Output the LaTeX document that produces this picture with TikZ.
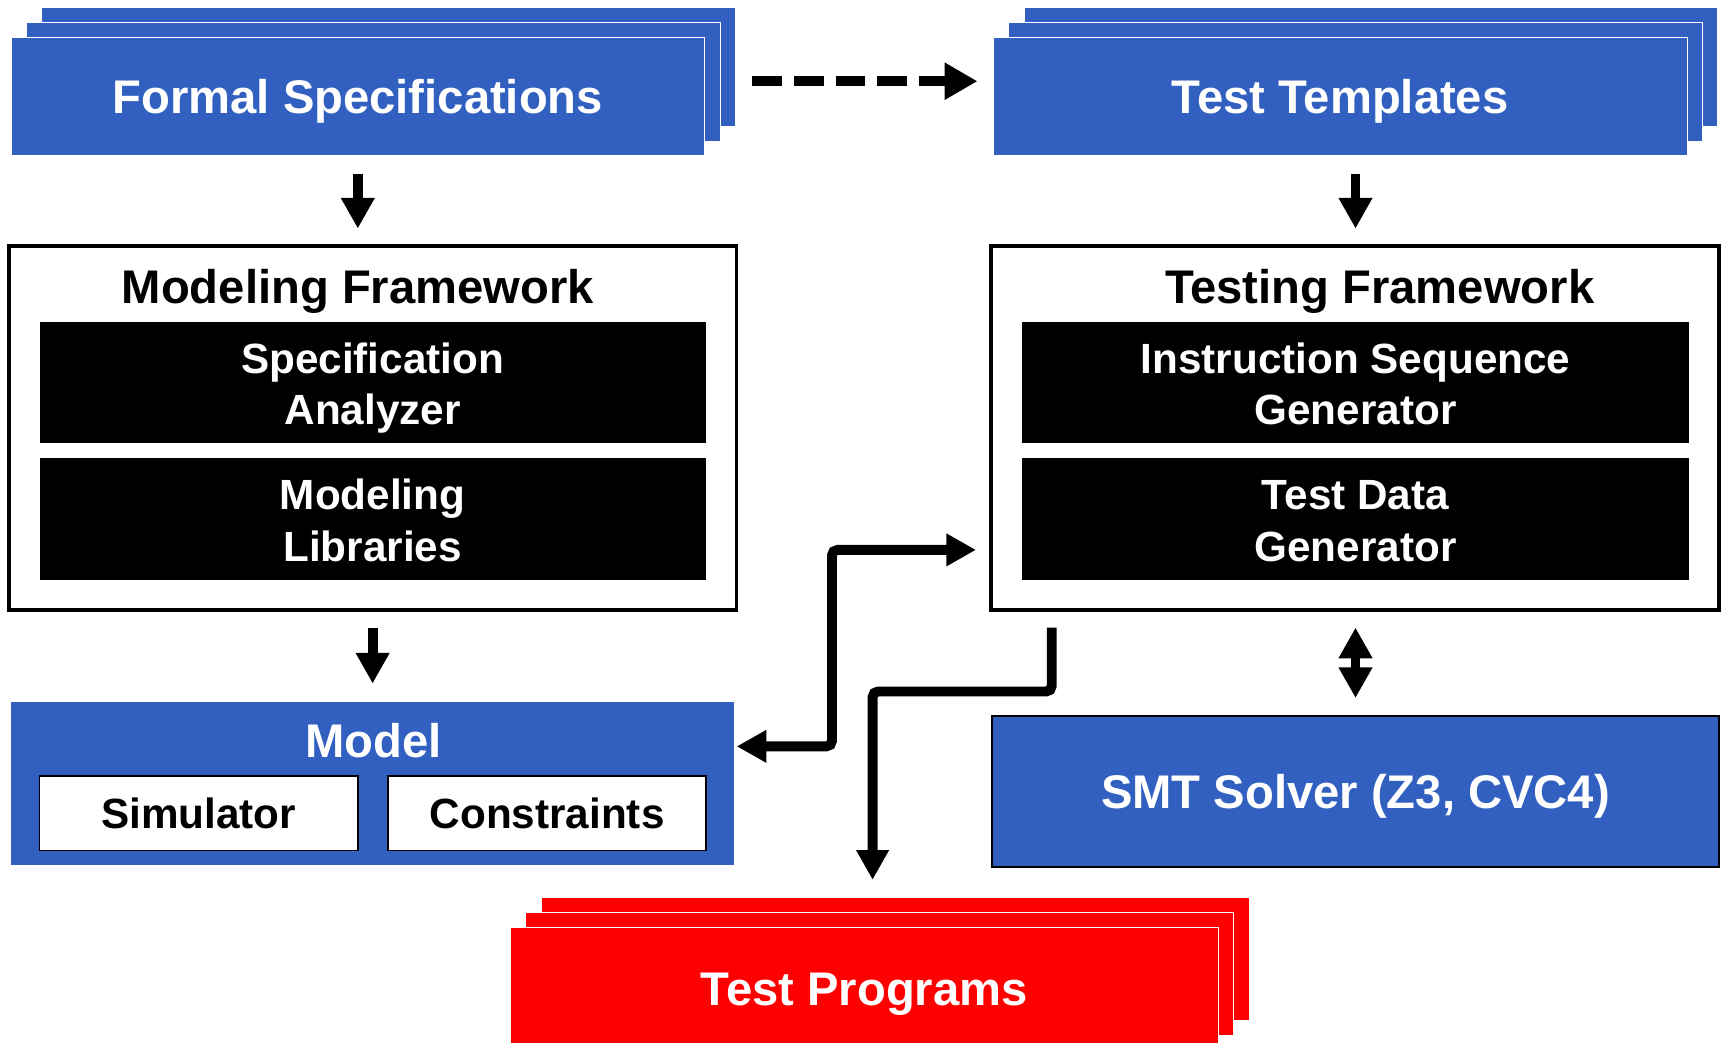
\documentclass[tikz,border=0pt]{standalone}
\usepackage{fontspec}
\setmainfont{Liberation Sans}
\usepackage{xcolor}
\usepackage{tikz}
\usetikzlibrary{arrows.meta}
\usetikzlibrary{shadows}
\usetikzlibrary{positioning}
\definecolor{azul}{RGB}{50,96,192}
\tikzset{
  pilha/.style={fill=#1, draw=white, line width=0.8pt, text=white,
    copy shadow={shadow xshift=28pt, shadow yshift=27pt},
    copy shadow={shadow xshift=14pt, shadow yshift=13.5pt},
    minimum width=632pt, minimum height=108pt, inner sep=0pt,
    text height=31pt, text depth=0pt,
    font=\fontsize{43}{50}\selectfont\bfseries},
  pilha/.default=azul,
  moldura/.style={draw, line width=3.5pt, minimum width=663pt, minimum height=332pt},
  titulo/.style={font=\fontsize{43}{50}\selectfont\bfseries, inner sep=0pt,
    text height=31pt, text depth=0pt},
  preta/.style={fill=black, text=white, align=center, minimum width=607pt, minimum height=111pt,
    inner sep=0pt, text height=77pt, text depth=0pt,
    font=\fontsize{38.5}{47}\selectfont\bfseries},
  branca/.style={fill=white, draw, line width=1.5pt, minimum width=290pt, minimum height=68pt,
    font=\fontsize{38.5}{47}\selectfont\bfseries},
  seta/.style={line width=9pt, -{Triangle[width=29pt,length=28pt]}},
  cotovelo/.style={line width=9pt, rounded corners=5pt},
}

\begin{document}
\begin{tikzpicture}[x=1pt, y=-1pt]
  \useasboundingbox (0,0) rectangle (1568,950);
  % caixas de cima
  \node[pilha] (formal) at (326,88) {Formal Specifications};
  \node[pilha] (tmpl) at (1221,88) {Test Templates};
  % lado esquerdo
  \node[moldura] (modfw) at (339.5,390) {};
  \node[titulo] (modtit) at (326,261) {Modeling Framework};
  \node[preta] (spec) at (339.5,348.5) {Specification\\Analyzer};
  \node[preta, below=13pt of spec] (libs) {Modeling\\Libraries};
  \node[fill=azul, minimum width=659pt, minimum height=148pt] (model) at (339.5,714) {};
  \node[titulo, text=white] (modlab) at (340,675) {Model};
  \node[branca] (sim) at (181,741) {Simulator};
  \node[branca] (cons) at (498.5,741) {Constraints};
  % lado direito
  \node[moldura] (testfw) at (1234.5,390) {};
  \node[titulo] (testtit) at (1257,261) {Testing Framework};
  \node[preta, minimum width=608pt] (isg) at (1235,348.5) {Instruction Sequence\\Generator};
  \node[preta, minimum width=608pt, below=13pt of isg] (tdg) {Test Data\\Generator};
  \node[fill=azul, draw, line width=2pt, text=white, minimum width=662pt, minimum height=138pt,
    text height=31pt, text depth=0pt,
    font=\fontsize{43}{50}\selectfont\bfseries] (smt) at (1235,721) {SMT Solver (Z3, CVC4)};
  % saida
  \node[pilha=red, minimum width=645pt, minimum height=112pt] (tprog) at (787.5,901) {Test Programs};
  % setas
  \draw[seta, -{Triangle[width=32pt,length=30pt]}, dash pattern=on 27pt off 11pt]
    ([xshift=43pt,yshift=14pt]formal.east) -- ([xshift=-14pt,yshift=14pt]tmpl.west);
  \draw[seta] ([yshift=-16pt]formal.south) -- ([yshift=14pt]modfw.north -| formal.south);
  \draw[seta] ([yshift=-16pt]tmpl.south -| isg.south) -- ([yshift=14pt]testfw.north -| isg.south);
  \draw[seta] ([yshift=-14pt]modfw.south) -- ([yshift=17pt]model.north);
  \draw[seta, {Triangle[width=29pt,length=28pt]}-{Triangle[width=29pt,length=28pt]}]
    ([yshift=-14pt]testfw.south -| smt.north) -- ([yshift=15pt]smt.north);
  \draw[cotovelo, {Triangle[width=28pt,length=27pt]}-{Triangle[width=28pt,length=27pt]}]
    ([xshift=2pt,yshift=34pt]model.east) -| (758,501) -- ([xshift=-12pt,yshift=-111pt]testfw.west);
  \draw[cotovelo, -{Triangle[width=28pt,length=27pt]}]
    ([xshift=57pt,yshift=-14pt]testfw.south west) |- (795,630) -- ([xshift=7.5pt,yshift=43pt]tprog.north);
\end{tikzpicture}
\end{document}
